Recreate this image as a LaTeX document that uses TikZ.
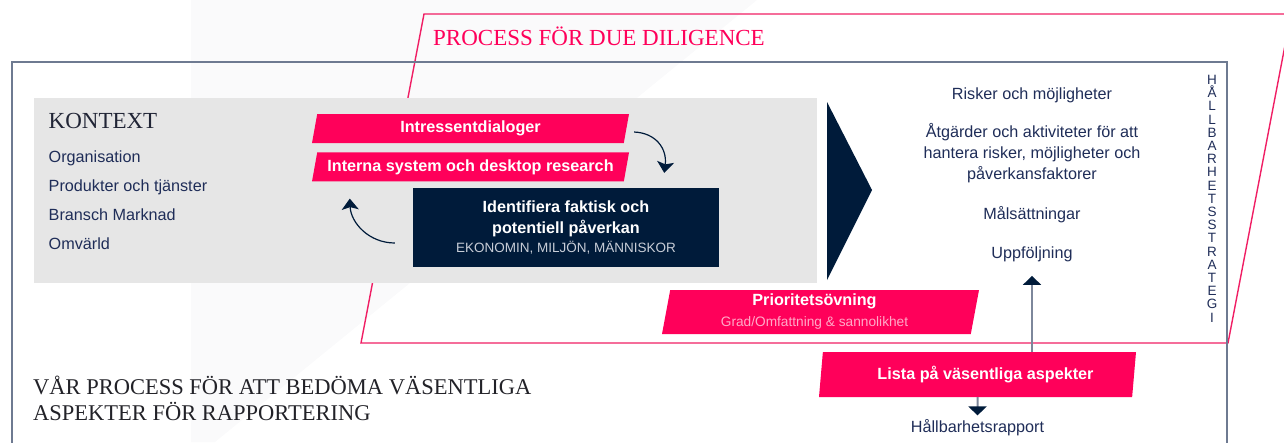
\documentclass[tikz,border=0pt]{standalone}
\usepackage{fontspec}
\setmainfont{Liberation Serif}
\setsansfont{Liberation Sans}
\usepackage{tikz}
\usetikzlibrary{arrows.meta,positioning,shapes.geometric}
\definecolor{ddPink}{RGB}{255,0,90}
\definecolor{ddRule}{RGB}{240,30,100}
\definecolor{ddNavy}{RGB}{0,27,58}
\definecolor{ddInk}{RGB}{31,45,88}
\definecolor{ddFrame}{RGB}{110,122,145}
\definecolor{ddShaft}{RGB}{125,135,155}
\definecolor{ddGrey}{RGB}{230,230,230}
\definecolor{ddFaint}{RGB}{250,250,251}
\definecolor{ddRose}{RGB}{255,170,200}
\definecolor{ddMist}{RGB}{200,205,215}
\definecolor{ddSerif}{RGB}{34,34,40}

\begin{document}
\begin{tikzpicture}[x=1pt,y=-1pt,
    font=\sffamily\fontsize{16.2}{19}\selectfont,
    serifhead/.style={font=\rmfamily\fontsize{23}{27}\selectfont,inner sep=0pt},
    pg/.style={trapezium,trapezium stretches body,fill=ddPink,text=white,
               inner sep=0pt,minimum width=317pt,align=center,
               font=\sffamily\bfseries\fontsize{16.2}{20}\selectfont},
    idbox/.style={fill=ddNavy,text=white,minimum width=306pt,minimum height=79pt,
                  inner sep=0pt,align=center,
                  font=\sffamily\bfseries\fontsize{16.2}{21}\selectfont},
    item/.style={text=ddInk,inner sep=0pt},
    cyc/.style={draw=ddNavy,line width=1.2pt,
                -{Stealth[length=11pt,width=17pt,inset=2.5pt]}},
    feed/.style={draw=ddShaft,line width=2pt,
                 -{Triangle[length=9pt,width=18pt,color=ddNavy]}}]
  \useasboundingbox (0,0) rectangle (1284,442);
  \fill[ddFaint] (191,0) -- (757,0) -- (215,442) -- (191,442) -- cycle;
  \draw[ddRule,line width=1.4pt] (361,343) -- (424,14) -- (1291,14) -- (1228,343) -- cycle;
  \draw[ddFrame,line width=1.5pt] (12,450) -- (12,62) -- (1227,62) -- (1227,450);
  \node[serifhead,text=ddPink,anchor=base west] (ddtitle) at (433,45) {PROCESS FÖR DUE DILIGENCE};

  \node[fill=ddGrey,minimum width=783pt,minimum height=185pt,inner sep=0pt,
        anchor=north west] (ctxbox) at (34,98) {};
  \node[serifhead,text=ddSerif!70!ddInk,anchor=base west] (ctxhead) at (48.5,128) {KONTEXT};
  \foreach \txt [count=\i] in {Organisation,Produkter och tjänster,Bransch Marknad,Omvärld}
    \node[item,anchor=base west] (ctx\i) at (48.5,133+29*\i) {\txt};

  \node[pg,trapezium left angle=71,trapezium right angle=109,minimum height=29pt]
    (intr) at (470.5,128.5) {Intressentdialoger};
  \node[pg,trapezium left angle=71,trapezium right angle=109,minimum height=29pt,
        below=9pt of intr] (interna) {Interna system och desktop research};
  \node[idbox] (ident) at (566,227.5) {Identifiera faktisk och\\potentiell påverkan\\[-2pt]
    {\mdseries\color{ddMist}\fontsize{13.5}{19}\selectfont EKONOMIN, MILJÖN, MÄNNISKOR}};
  \draw[cyc] ([xshift=7.5pt,yshift=-3.5pt]intr.east) .. controls +(22,1) and +(3,-24)
    .. ([xshift=-55pt,yshift=15pt]ident.north east);
  \draw[cyc] ([xshift=-18pt,yshift=-15.5pt]ident.west) .. controls +(-26,0) and +(1,24)
    .. ([xshift=38pt,yshift=-17pt]interna.bottom left corner);

  \fill[ddNavy] (827,102) -- (872,190) -- (827,280) -- cycle;

  \node[item,anchor=base] (risk) at (1032,99) {Risker och möjligheter};
  \node[item,align=center,font=\sffamily\fontsize{16.2}{21}\selectfont] (atg) at (1032,153)
    {Åtgärder och aktiviteter för att\\hantera risker, möjligheter och\\påverkansfaktorer};
  \node[item,anchor=base] (mal) at (1032,219) {Målsättningar};
  \node[text=ddInk,anchor=base] (uppf) at (1032,258) {Uppföljning};
  \node[item,align=center,anchor=north,font=\sffamily\fontsize{13.5}{13.2}\selectfont]
    (strat) at (1212,75) {H\\Å\\L\\L\\B\\A\\R\\H\\E\\T\\S\\S\\T\\R\\A\\T\\E\\G\\I};

  \node[pg,trapezium left angle=77,trapezium right angle=103,minimum height=44pt]
    (prio) at (820.5,312) {\hspace*{-12pt}Prioritetsövning\\[1pt]
    {\mdseries\color{ddRose}\fontsize{13.7}{20}\selectfont\hspace*{-12pt}Grad/Omfattning \& sannolikhet}};
  \node[pg,trapezium left angle=77,trapezium right angle=103,minimum height=45pt]
    (lista) at (977.5,374.5) {\hspace*{16pt}Lista på väsentliga aspekter};
  \node[text=ddInk,anchor=base] (rapport) at (977.5,432) {Hållbarhetsrapport};
  \draw[feed] (lista.north -| uppf.south) -- ([yshift=-11pt]uppf.south);
  \draw[feed] (lista.south) -- (rapport.north);

  \node[serifhead,font=\rmfamily\fontsize{22.5}{26}\selectfont,align=left,
        text=ddSerif,anchor=west] (vaar) at (33,398)
    {VÅR PROCESS FÖR ATT BEDÖMA VÄSENTLIGA\\ASPEKTER FÖR RAPPORTERING};
\end{tikzpicture}
\end{document}
